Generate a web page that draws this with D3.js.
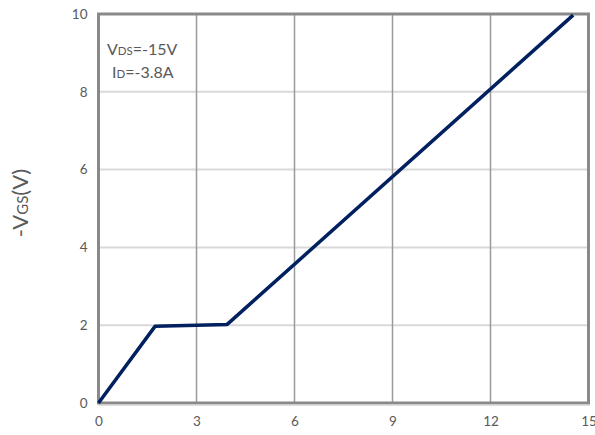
<!DOCTYPE html>
<html>
<head>
<meta charset="utf-8">
<script src="https://cdn.jsdelivr.net/npm/d3@7"></script>
<style>
  body { margin: 0; background: #fff; }
  text { font-family: Lato, "Open Sans", sans-serif; fill: #595959; }
</style>
</head>
<body>
<div id="chart"></div>
<script>
// curve values
var qg = [0, 1.73, 3.94, 14.53];
var vgs = [0, 1.97, 2.02, 9.97];
var xTicks = [0, 3, 6, 9, 12, 15];
var yTicks = [0, 2, 4, 6, 8, 10];

var w = 595, h = 435;
var pLeft = 98.5, pRight = 588.5, pTop = 14, pBottom = 403;

var svg = d3.select("#chart").append("svg")
	.attr("width", w)
	.attr("height", h);

var x = d3.scaleLinear().domain([0, 15]).range([pLeft, pRight]);
var y = d3.scaleLinear().domain([0, 10]).range([pBottom, pTop]);

// horizontal grid
svg.append("g").selectAll("line")
	.data(yTicks.slice(1, -1))
	.enter().append("line")
	.attr("x1", pLeft).attr("x2", pRight)
	.attr("y1", d => y(d)).attr("y2", d => y(d))
	.attr("stroke", "#d9d9d9").attr("stroke-width", 2);

// vertical grid
svg.append("g").selectAll("line")
	.data(xTicks.slice(1, -1))
	.enter().append("line")
	.attr("x1", d => x(d)).attr("x2", d => x(d))
	.attr("y1", pTop).attr("y2", pBottom)
	.attr("stroke", "#9a9a9a").attr("stroke-width", 1.5);

// frame
svg.append("rect")
	.attr("x", pLeft).attr("y", pTop)
	.attr("width", pRight - pLeft).attr("height", pBottom - pTop)
	.attr("fill", "none")
	.attr("stroke", "#898989").attr("stroke-width", 3);
svg.append("line")
	.attr("x1", pLeft).attr("x2", pRight + 1.5)
	.attr("y1", pBottom + 2).attr("y2", pBottom + 2)
	.attr("stroke", "#d0d0d0").attr("stroke-width", 1.5);

// axes (labels only)
var xAxis = d3.axisBottom(x).tickValues(xTicks).tickSize(0).tickPadding(13);
var yAxis = d3.axisLeft(y).tickValues(yTicks).tickSize(0).tickPadding(11);

var gx = svg.append("g").attr("transform", "translate(0," + pBottom + ")").call(xAxis);
var gy = svg.append("g").attr("transform", "translate(" + pLeft + ",0)").call(yAxis);
[gx, gy].forEach(function(g){
	g.select(".domain").remove();
	g.selectAll("text").style("font-size", "13.5px").attr("fill", "#595959")
		.style("font-family", "Lato, 'Open Sans', sans-serif");
});

// curve
var pts = qg.map((d, i) => [d, vgs[i]]);
svg.append("path")
	.datum(pts)
	.attr("fill", "none")
	.attr("stroke", "#002060")
	.attr("stroke-width", 3.5)
	.attr("stroke-linejoin", "round")
	.attr("d", d3.line().x(d => x(d[0])).y(d => y(d[1])));

// annotation
var t1 = svg.append("text").attr("x", 107).attr("y", 55).style("font-size", "16px");
t1.append("tspan").text("V");
t1.append("tspan").text("DS").style("font-size", "11.5px");
t1.append("tspan").text("=-15V");
var t2 = svg.append("text").attr("x", 112).attr("y", 78).style("font-size", "16px");
t2.append("tspan").text("I");
t2.append("tspan").text("D").style("font-size", "11.5px");
t2.append("tspan").text("=-3.8A");

// y label
var yl = svg.append("text")
	.attr("transform", "translate(28,203) rotate(-90)")
	.attr("text-anchor", "middle")
	.style("font-size", "22px");
yl.append("tspan").text("-V");
yl.append("tspan").text("GS").style("font-size", "15px");
yl.append("tspan").text("(V)");
</script>
</body>
</html>
